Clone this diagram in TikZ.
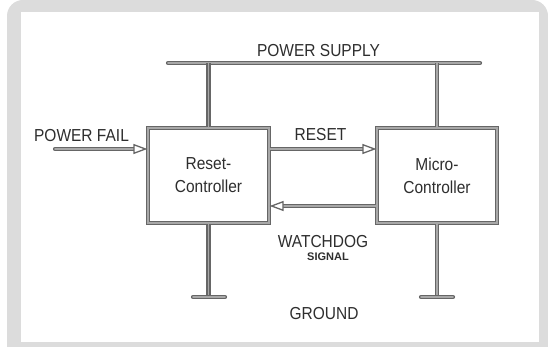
\documentclass[tikz,border=0pt]{standalone}
\usepackage{fontspec}
\setmainfont{Liberation Sans}
\usetikzlibrary{arrows.meta}
\definecolor{wireout}{HTML}{666666}
\definecolor{wirein}{HTML}{A8A8A8}
\definecolor{frame}{HTML}{DCDCDC}
\definecolor{txt}{HTML}{2E2E2E}
\newcommand{\sx}[1]{\scalebox{1}[1.12]{#1}}
\tikzset{
  wire/.style={draw=wireout, line width=1.3pt, double=wirein, double distance=1.6pt, line cap=round},
  blockbox/.style={wire, line cap=butt, rectangle, fill=white, inner sep=0pt, align=center,
    text=txt, font=\fontsize{15.5}{23}\selectfont},
  lbl/.style={text=txt, inner sep=0pt, font=\fontsize{15.5}{18}\selectfont},
  small/.style={text=txt, inner sep=0pt, font=\fontsize{11}{13}\selectfont\bfseries},
  tip/.style={-{Triangle[open, length=14pt, width=10pt, line width=1.3pt, fill=white]}}
}
\begin{document}
\begin{tikzpicture}[x=1pt,y=-1pt]
\useasboundingbox (0,0) rectangle (548,347);
\fill[white] (0,0) rectangle (548,347);
\fill[frame, rounded corners=16pt] (7,0) rectangle (548,362);
\fill[white] (21,12) rectangle (539,342);

\coordinate (busL) at (168,63);
\coordinate (busR) at (480,63);
\coordinate (pf) at (55,149);
\coordinate (g1) at (209,297);
\coordinate (g2) at (437,297);

\node[blockbox, minimum width=121pt, minimum height=95pt] (rc) at (208.5,175.5) {\sx{Reset-}\\\sx{Controller}};
\node[blockbox, minimum width=120pt, minimum height=95pt] (mc) at (437,175.5) {\sx{Micro-}\\\sx{Controller}};

% power bus
\draw[wire] (busL) -- (busR);
\draw[wire, line cap=butt] (rc.north) -- (rc.north |- busL);
\draw[wire, line cap=butt] (mc.north) -- (mc.north |- busR);

% ground
\draw[wire, line cap=butt] (rc.south) -- (rc.south |- g1);
\draw[wire, line cap=butt] (mc.south) -- (mc.south |- g2);
\draw[wire] ([xshift=-16pt]g1) -- ([xshift=16pt]g1);
\draw[wire] ([xshift=-16pt]g2) -- ([xshift=16pt]g2);

% signals
\draw[wire, tip] (pf) -- (pf -| rc.west);
\draw[wire, tip, line cap=butt] ([yshift=26.5pt]rc.east) -- ([yshift=26.5pt]mc.west);
\draw[wire, tip, line cap=butt] ([yshift=-30.5pt]mc.west) -- ([yshift=-30.5pt]rc.east);

% labels
\node[lbl] (ps) at (318.5,51) {\sx{POWER SUPPLY}};
\node[lbl] (pfl) at (81.5,136) {\sx{POWER FAIL}};
\node[lbl] (rs) at (320.5,135) {\sx{RESET}};
\node[lbl] (wd) at (323,242) {\sx{WATCHDOG}};
\node[small] (sg) at (328,257) {SIGNAL};
\node[lbl] (gnd) at (324,314) {\sx{GROUND}};
\end{tikzpicture}
\end{document}
